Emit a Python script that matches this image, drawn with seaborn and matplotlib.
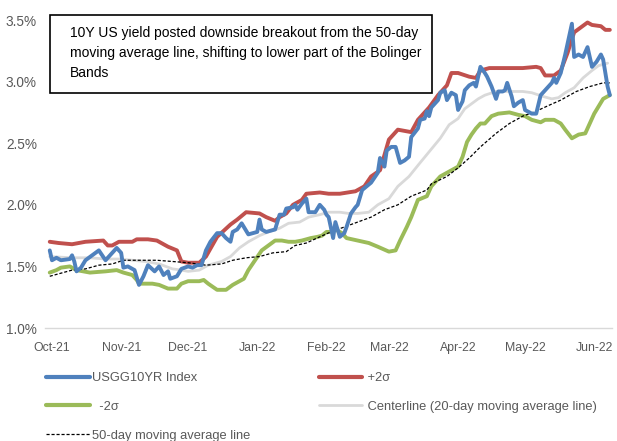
import matplotlib
matplotlib.use("Agg")
import matplotlib.pyplot as plt
import matplotlib.dates as mdates
from matplotlib.lines import Line2D
from matplotlib.patches import Rectangle
from matplotlib.ticker import FuncFormatter
import pandas as pd
import seaborn as sns

# ---------------- data ----------------
us10y_dates = [
    "2021-09-30", "2021-10-01", "2021-10-03", "2021-10-05", "2021-10-09", "2021-10-10", "2021-10-11",
    "2021-10-12", "2021-10-14", "2021-10-16", "2021-10-19", "2021-10-22", "2021-10-25", "2021-10-28",
    "2021-10-30", "2021-11-01", "2021-11-02", "2021-11-04", "2021-11-07", "2021-11-09", "2021-11-11",
    "2021-11-13", "2021-11-16", "2021-11-18", "2021-11-20", "2021-11-22", "2021-11-23", "2021-11-26",
    "2021-11-28", "2021-12-01",
    "2021-12-03", "2021-12-05", "2021-12-07", "2021-12-09", "2021-12-11", "2021-12-14", "2021-12-16",
    "2021-12-18", "2021-12-20", "2021-12-21", "2021-12-23", "2021-12-25", "2021-12-26", "2021-12-28",
    "2021-12-30", "2022-01-01", "2022-01-02", "2022-01-03", "2022-01-05", "2022-01-09", "2022-01-11",
    "2022-01-13", "2022-01-14", "2022-01-17", "2022-01-18", "2022-01-19", "2022-01-21", "2022-01-23",
    "2022-01-24", "2022-01-27", "2022-01-29", "2022-01-31", "2022-02-01", "2022-02-02",
    "2022-02-04", "2022-02-05", "2022-02-07", "2022-02-09", "2022-02-10", "2022-02-12", "2022-02-14",
    "2022-02-15", "2022-02-17", "2022-02-19", "2022-02-21", "2022-02-24", "2022-02-25", "2022-02-27",
    "2022-02-28", "2022-03-02", "2022-03-04", "2022-03-06", "2022-03-08", "2022-03-10", "2022-03-11",
    "2022-03-14", "2022-03-15", "2022-03-17", "2022-03-18", "2022-03-19", "2022-03-20", "2022-03-23",
    "2022-03-24", "2022-03-26", "2022-03-27", "2022-03-29", "2022-03-31",
    "2022-04-01", "2022-04-03", "2022-04-04", "2022-04-06", "2022-04-08", "2022-04-09", "2022-04-11",
    "2022-04-13", "2022-04-14", "2022-04-16", "2022-04-18", "2022-04-19", "2022-04-21", "2022-04-22",
    "2022-04-23", "2022-04-25", "2022-04-26", "2022-04-28", "2022-04-30", "2022-05-01", "2022-05-02",
    "2022-05-04", "2022-05-06", "2022-05-08", "2022-05-10", "2022-05-13", "2022-05-14", "2022-05-15",
    "2022-05-17", "2022-05-19", "2022-05-22", "2022-05-23", "2022-05-25", "2022-05-27", "2022-05-29",
    "2022-05-31", "2022-06-02", "2022-06-04", "2022-06-05", "2022-06-07", "2022-06-08",
]
us10y_values = [
    1.63, 1.55, 1.57, 1.55, 1.56, 1.59, 1.54, 1.46, 1.49, 1.55, 1.59, 1.63, 1.55, 1.61, 1.65,
    1.61, 1.49, 1.50, 1.47, 1.35, 1.42, 1.51, 1.46, 1.50, 1.43, 1.46, 1.40, 1.42, 1.48, 1.50,
    1.49, 1.51, 1.51, 1.63, 1.70, 1.77, 1.77, 1.73, 1.70, 1.78, 1.80, 1.85, 1.82, 1.76, 1.77,
    1.78, 1.88, 1.80, 1.78, 1.80, 1.92, 1.92, 1.97, 1.98, 2.00, 1.96, 2.01, 2.05, 1.94, 1.94,
    2.00, 1.96, 1.92, 1.90,
    1.73, 1.86, 1.74, 1.77, 1.82, 1.93, 1.98, 2.00, 2.12, 2.15, 2.18, 2.26, 2.38, 2.31, 2.44,
    2.47, 2.47, 2.34, 2.36, 2.39, 2.55, 2.62, 2.69, 2.70, 2.76, 2.72, 2.79, 2.85, 2.91, 2.93,
    2.85, 2.91, 2.89,
    2.77, 2.84, 2.93, 2.97, 2.99, 2.96, 3.12, 3.07, 3.04, 2.96, 2.86, 2.92, 2.92, 2.93, 2.99,
    2.88, 2.80, 2.83, 2.85, 2.77, 2.76, 2.74, 2.74, 2.89, 2.93, 2.99, 3.03, 2.99, 3.07, 3.22,
    3.47, 3.20, 3.22, 3.20, 3.28, 3.12, 3.16, 3.22, 3.18, 2.96, 2.89,
]

upper_dates = [
    "2021-09-30", "2021-10-04", "2021-10-10", "2021-10-16", "2021-10-24", "2021-10-26", "2021-10-28",
    "2021-10-31", "2021-11-06", "2021-11-08", "2021-11-13", "2021-11-17", "2021-11-22", "2021-11-26",
    "2021-11-28", "2021-12-01", "2021-12-06", "2021-12-09", "2021-12-14", "2021-12-20", "2021-12-23",
    "2021-12-27", "2022-01-02", "2022-01-05", "2022-01-09", "2022-01-11", "2022-01-14", "2022-01-17",
    "2022-01-21", "2022-01-23", "2022-01-29", "2022-02-02", "2022-02-07", "2022-02-14", "2022-02-18",
    "2022-02-21", "2022-02-25", "2022-03-01", "2022-03-05", "2022-03-11", "2022-03-14", "2022-03-19",
    "2022-03-23", "2022-03-27", "2022-03-29", "2022-04-01", "2022-04-06", "2022-04-09", "2022-04-11",
    "2022-04-15", "2022-04-30", "2022-05-06", "2022-05-08", "2022-05-10", "2022-05-14", "2022-05-17",
    "2022-05-20", "2022-05-23", "2022-05-29", "2022-05-31", "2022-06-04", "2022-06-06", "2022-06-08",
]
upper_values = [
    1.70, 1.69, 1.68, 1.70, 1.71, 1.67, 1.67, 1.70, 1.70, 1.72, 1.72, 1.71, 1.66, 1.63,
    1.54, 1.53, 1.53, 1.58, 1.74, 1.84, 1.88, 1.94, 1.93, 1.90, 1.87, 1.90, 1.93, 2.00,
    2.04, 2.09, 2.10, 2.09, 2.09, 2.11, 2.15, 2.23, 2.28, 2.53, 2.61, 2.59, 2.69, 2.79,
    2.89, 2.97, 3.07, 3.07, 3.04, 3.03, 3.09, 3.11, 3.11, 3.12, 3.11, 3.05, 3.05, 3.09,
    3.23, 3.40, 3.48, 3.46, 3.45, 3.42, 3.42,
]

lower_dates = [
    "2021-09-30", "2021-10-03", "2021-10-05", "2021-10-09", "2021-10-12", "2021-10-15", "2021-10-18",
    "2021-10-25", "2021-10-30", "2021-11-02", "2021-11-06", "2021-11-08", "2021-11-09", "2021-11-15",
    "2021-11-18", "2021-11-22", "2021-11-26", "2021-11-28", "2021-12-01", "2021-12-06", "2021-12-08",
    "2021-12-10", "2021-12-14", "2021-12-18", "2021-12-21", "2021-12-24", "2021-12-26", "2021-12-28",
    "2021-12-31", "2022-01-03", "2022-01-06", "2022-01-09", "2022-01-12", "2022-01-15", "2022-01-18",
    "2022-01-21", "2022-01-25", "2022-01-28", "2022-01-30", "2022-02-01", "2022-02-03", "2022-02-05",
    "2022-02-08", "2022-02-10", "2022-02-15", "2022-02-20", "2022-02-24", "2022-03-01", "2022-03-04",
    "2022-03-06", "2022-03-09", "2022-03-11", "2022-03-14", "2022-03-18", "2022-03-20", "2022-03-24",
    "2022-03-27", "2022-03-29", "2022-04-01", "2022-04-03", "2022-04-05", "2022-04-07", "2022-04-09",
    "2022-04-11", "2022-04-13", "2022-04-16", "2022-04-19", "2022-04-24", "2022-04-28", "2022-05-01",
    "2022-05-04", "2022-05-08", "2022-05-10", "2022-05-14", "2022-05-17", "2022-05-19", "2022-05-22",
    "2022-05-25", "2022-05-28", "2022-05-30", "2022-06-01", "2022-06-03", "2022-06-05", "2022-06-08",
]
lower_values = [
    1.45, 1.47, 1.49, 1.50, 1.47, 1.46, 1.45, 1.46, 1.47, 1.45, 1.43, 1.39, 1.36, 1.36,
    1.35, 1.32, 1.32, 1.36, 1.38, 1.38, 1.39, 1.36, 1.31, 1.31, 1.35, 1.38, 1.40, 1.47,
    1.55, 1.63, 1.67, 1.71, 1.71, 1.70, 1.70, 1.71, 1.73, 1.74, 1.75, 1.78, 1.78, 1.80,
    1.77, 1.73, 1.71, 1.69, 1.66, 1.62, 1.63, 1.71, 1.82, 1.90, 2.04, 2.07, 2.15, 2.23,
    2.26, 2.28, 2.31, 2.39, 2.51, 2.57, 2.62, 2.66, 2.66, 2.72, 2.74, 2.75, 2.73, 2.72,
    2.69, 2.67, 2.69, 2.69, 2.66, 2.61, 2.54, 2.57, 2.58, 2.66, 2.74, 2.80, 2.86, 2.89,
]

center_dates = [
    "2021-09-30", "2021-10-10", "2021-10-18", "2021-10-25", "2021-10-31", "2021-11-06", "2021-11-12",
    "2021-11-18", "2021-11-24", "2021-11-28", "2021-12-01", "2021-12-06", "2021-12-10", "2021-12-16",
    "2021-12-20", "2021-12-24", "2021-12-28", "2022-01-02", "2022-01-06", "2022-01-11", "2022-01-15",
    "2022-01-20", "2022-01-24", "2022-01-29", "2022-02-02", "2022-02-07", "2022-02-11", "2022-02-15",
    "2022-02-20", "2022-02-24", "2022-03-01", "2022-03-05", "2022-03-10", "2022-03-14", "2022-03-19",
    "2022-03-24", "2022-03-28", "2022-04-01", "2022-04-04", "2022-04-07", "2022-04-10", "2022-04-13",
    "2022-04-18", "2022-04-24", "2022-04-30", "2022-05-04", "2022-05-09", "2022-05-13", "2022-05-16",
    "2022-05-19", "2022-05-23", "2022-05-27", "2022-05-31", "2022-06-03", "2022-06-07",
]
center_values = [
    1.58, 1.57, 1.57, 1.56, 1.56, 1.55, 1.54, 1.52, 1.48, 1.47, 1.46, 1.47, 1.51, 1.54,
    1.58, 1.65, 1.70, 1.75, 1.78, 1.81, 1.85, 1.86, 1.90, 1.92, 1.94, 1.94, 1.93, 1.93,
    1.94, 2.00, 2.05, 2.15, 2.23, 2.32, 2.43, 2.54, 2.65, 2.70, 2.78, 2.82, 2.86, 2.89,
    2.92, 2.92, 2.92, 2.91, 2.88, 2.86, 2.87, 2.91, 2.95, 3.03, 3.09, 3.13, 3.15,
]

ma50_dates = [
    "2021-09-30", "2021-10-04", "2021-10-10", "2021-10-16", "2021-10-22", "2021-10-28", "2021-11-02",
    "2021-11-09", "2021-11-17", "2021-11-24", "2021-12-01", "2021-12-09", "2021-12-16", "2021-12-21",
    "2021-12-27", "2022-01-02", "2022-01-08", "2022-01-14", "2022-01-18", "2022-01-23", "2022-01-29",
    "2022-02-03", "2022-02-09", "2022-02-15", "2022-02-21", "2022-02-27", "2022-03-05", "2022-03-11",
    "2022-03-18", "2022-03-20", "2022-03-27", "2022-04-01", "2022-04-06", "2022-04-11", "2022-04-18",
    "2022-04-24", "2022-04-30", "2022-05-06", "2022-05-12", "2022-05-17", "2022-05-24", "2022-05-30",
    "2022-06-05", "2022-06-08",
]
ma50_values = [
    1.42, 1.44, 1.47, 1.48, 1.51, 1.52, 1.55, 1.55, 1.55, 1.54, 1.53, 1.51, 1.52, 1.55,
    1.57, 1.58, 1.61, 1.62, 1.67, 1.69, 1.74, 1.78, 1.82, 1.86, 1.90, 1.96, 2.00, 2.07,
    2.12, 2.17, 2.23, 2.30, 2.38, 2.47, 2.58, 2.66, 2.72, 2.76, 2.81, 2.85, 2.92, 2.96,
    2.99, 2.99,
]

month_ticks = ["2021-10-01", "2021-11-01", "2021-12-01", "2022-01-01", "2022-02-01",
               "2022-03-01", "2022-04-01", "2022-05-01", "2022-06-01"]
y_ticks = [1.0, 1.5, 2.0, 2.5, 3.0, 3.5]

series_labels = ["USGG10YR Index", "+2\u03c3", "-2\u03c3",
                 "Centerline (20-day moving average line)", "50-day moving average line"]
note_text = ("10Y US yield posted downside breakout from the 50-day\n"
             "moving average line, shifting to lower part of the Bolinger\n"
             "Bands")

# ---------------- style ----------------
sns.set_theme(style="white")
FONT = ["Liberation Sans", "DejaVu Sans"]
plt.rcParams["font.family"] = FONT

C_BLUE = "#4F81BD"
C_RED = "#C0504D"
C_GREEN = "#9BBB59"
C_GRAY = "#D9D9D9"
C_TXT = "#595959"

fig = plt.figure(figsize=(6.17, 4.41), dpi=100)
ax = fig.add_axes([0.0734, 0.2562, 0.9186, 0.6984])

def frame(d, v):
    return pd.DataFrame({"date": pd.to_datetime(d), "value": v})

df_c = frame(center_dates, center_values)
df_l = frame(lower_dates, lower_values)
df_u = frame(upper_dates, upper_values)
df_m = frame(ma50_dates, ma50_values)
df_b = frame(us10y_dates, us10y_values)

sns.lineplot(data=df_c, x="date", y="value", ax=ax, color=C_GRAY, lw=2.0, zorder=2)
sns.lineplot(data=df_l, x="date", y="value", ax=ax, color=C_GREEN, lw=2.8, zorder=3)
sns.lineplot(data=df_u, x="date", y="value", ax=ax, color=C_RED, lw=2.8, zorder=3)
sns.lineplot(data=df_m, x="date", y="value", ax=ax, color="black", lw=0.9, zorder=4,
             dashes=False, linestyle=(0, (2.5, 1.5)))
sns.lineplot(data=df_b, x="date", y="value", ax=ax, color=C_BLUE, lw=2.8, zorder=5)

ax.set_xlim(pd.Timestamp("2021-09-28"), pd.Timestamp("2022-06-09"))
ax.set_ylim(1.0, 3.5)
ax.set_xlabel("")
ax.set_ylabel("")

ax.set_xticks(pd.to_datetime(month_ticks))
ax.xaxis.set_major_formatter(mdates.DateFormatter("%b-%y"))
ax.set_yticks(y_ticks)
ax.yaxis.set_major_formatter(FuncFormatter(lambda v, p: f"{v:.1f}%"))

for s in ["top", "right", "left"]:
    ax.spines[s].set_visible(False)
ax.spines["bottom"].set_color(C_GRAY)
ax.spines["bottom"].set_linewidth(1.0)
ax.tick_params(axis="x", colors=C_GRAY, length=4, width=1, direction="out",
               labelcolor=C_TXT, labelsize=8.8, pad=6)
ax.tick_params(axis="y", length=0, labelcolor=C_TXT, labelsize=9.8, pad=6)
ax.grid(False)

# annotation box
fig.patches.append(Rectangle((50 / 617, 1 - 93 / 441), 382 / 617, 78 / 441,
                             transform=fig.transFigure, facecolor="white",
                             edgecolor="black", lw=1.2, zorder=10))
fig.text(70 / 617, 1 - 26 / 441, note_text, ha="left", va="top", fontsize=10.0,
         color="black", linespacing=1.55, zorder=11)

# legend
handles = [
    Line2D([], [], color=C_BLUE, lw=3),
    Line2D([], [], color=C_GREEN, lw=3),
    Line2D([], [], color="black", lw=0.9, linestyle=(0, (2.5, 1.5))),
    Line2D([], [], color=C_RED, lw=3),
    Line2D([], [], color=C_GRAY, lw=2),
]
labels = [series_labels[0], "  " + series_labels[2], series_labels[4],
          " " + series_labels[1], " " + series_labels[3]]
fig.legend(handles, labels, loc="upper left", bbox_to_anchor=(46 / 617, 1 - 372 / 441),
           ncol=2, frameon=False, fontsize=9.3, handlelength=3.4, handletextpad=0.15,
           columnspacing=5.3, labelspacing=1.3, borderpad=0, borderaxespad=0,
           labelcolor=C_TXT)

fig.savefig("out.png", dpi=100)
